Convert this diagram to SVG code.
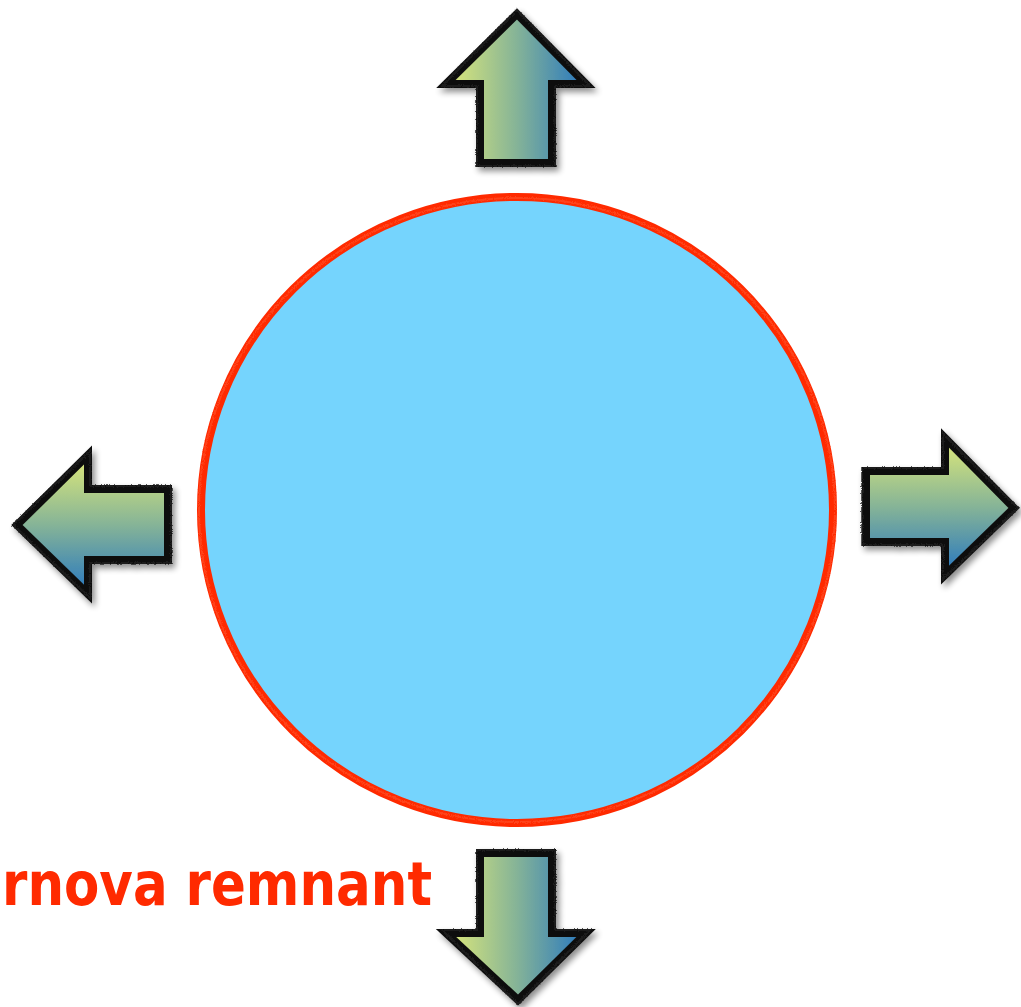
<svg xmlns="http://www.w3.org/2000/svg" width="1021" height="1007" viewBox="0 0 1021 1007">
<defs>
<linearGradient id="gh" x1="0" y1="0" x2="1" y2="0">
<stop offset="0" stop-color="#E0EA78"/>
<stop offset="0.5" stop-color="#86B497"/>
<stop offset="1" stop-color="#2676C0"/>
</linearGradient>
<linearGradient id="gv" x1="0" y1="0" x2="0" y2="1">
<stop offset="0" stop-color="#E0EA78"/>
<stop offset="0.5" stop-color="#86B497"/>
<stop offset="1" stop-color="#2676C0"/>
</linearGradient>
<filter id="shadow" x="-20%" y="-20%" width="150%" height="150%">
<feGaussianBlur in="SourceAlpha" stdDeviation="3"/>
<feOffset dx="3" dy="4" result="b"/>
<feComponentTransfer><feFuncA type="linear" slope="0.45"/></feComponentTransfer>
<feMerge><feMergeNode/><feMergeNode in="SourceGraphic"/></feMerge>
</filter>
<filter id="rough" x="-5%" y="-5%" width="110%" height="110%">
<feTurbulence type="fractalNoise" baseFrequency="0.9" numOctaves="2" seed="3"/>
<feDisplacementMap in="SourceGraphic" scale="4" xChannelSelector="R" yChannelSelector="G"/>
</filter>
</defs>
<style>
.arrow{stroke:#111;stroke-width:8;stroke-linejoin:miter}
.edge{fill:none;stroke:#222;stroke-width:2;opacity:0.75}
.label{font-family:"DejaVu Sans",sans-serif;font-weight:bold;font-size:60px;fill:#FF2A00}
</style>
<rect width="1021" height="1007" fill="#fff"/>
<g id="remnant">
<ellipse cx="517" cy="510" rx="316" ry="313" fill="#75D4FD" stroke="#FF2A00" stroke-width="8"/>
<ellipse cx="517" cy="510" rx="318" ry="312" fill="none" stroke="#FF4A20" stroke-width="2" filter="url(#rough)" opacity="0.8"/>
</g>
<g id="arrow-up" filter="url(#shadow)">
<path class="arrow" fill="url(#gh)" d="M517,14 L586,84 L552,84 L552,163 L480,163 L480,84 L446,84 Z"/>
<path class="edge" filter="url(#rough)" d="M517,10 L590,86 L555,86 L555,166 L477,166 L477,86 L442,86 Z"/>
</g>
<g id="arrow-left" filter="url(#shadow)">
<path class="arrow" fill="url(#gv)" d="M17,525 L88,455 L88,489 L168,489 L168,560 L88,560 L88,594 Z"/>
<path class="edge" filter="url(#rough)" d="M13,525 L90,451 L90,486 L171,486 L171,563 L90,563 L90,598 Z"/>
</g>
<g id="arrow-right" filter="url(#shadow)">
<path class="arrow" fill="url(#gv)" d="M1014,508 L945,438 L945,471 L866,471 L866,542 L945,542 L945,575 Z"/>
<path class="edge" filter="url(#rough)" d="M1018,508 L943,434 L943,468 L862,468 L862,545 L943,545 L943,579 Z"/>
</g>
<g id="arrow-down" filter="url(#shadow)">
<path class="arrow" fill="url(#gh)" d="M480,853 L552,853 L552,933 L586,933 L518,1000 L446,933 L480,933 Z"/>
<path class="edge" filter="url(#rough)" d="M477,850 L555,850 L555,930 L590,930 L518,1004 L442,930 L477,930 Z"/>
</g>
<g id="caption">
<text class="label" x="2" y="905" textLength="430" lengthAdjust="spacingAndGlyphs">rnova remnant</text>
</g>
</svg>
